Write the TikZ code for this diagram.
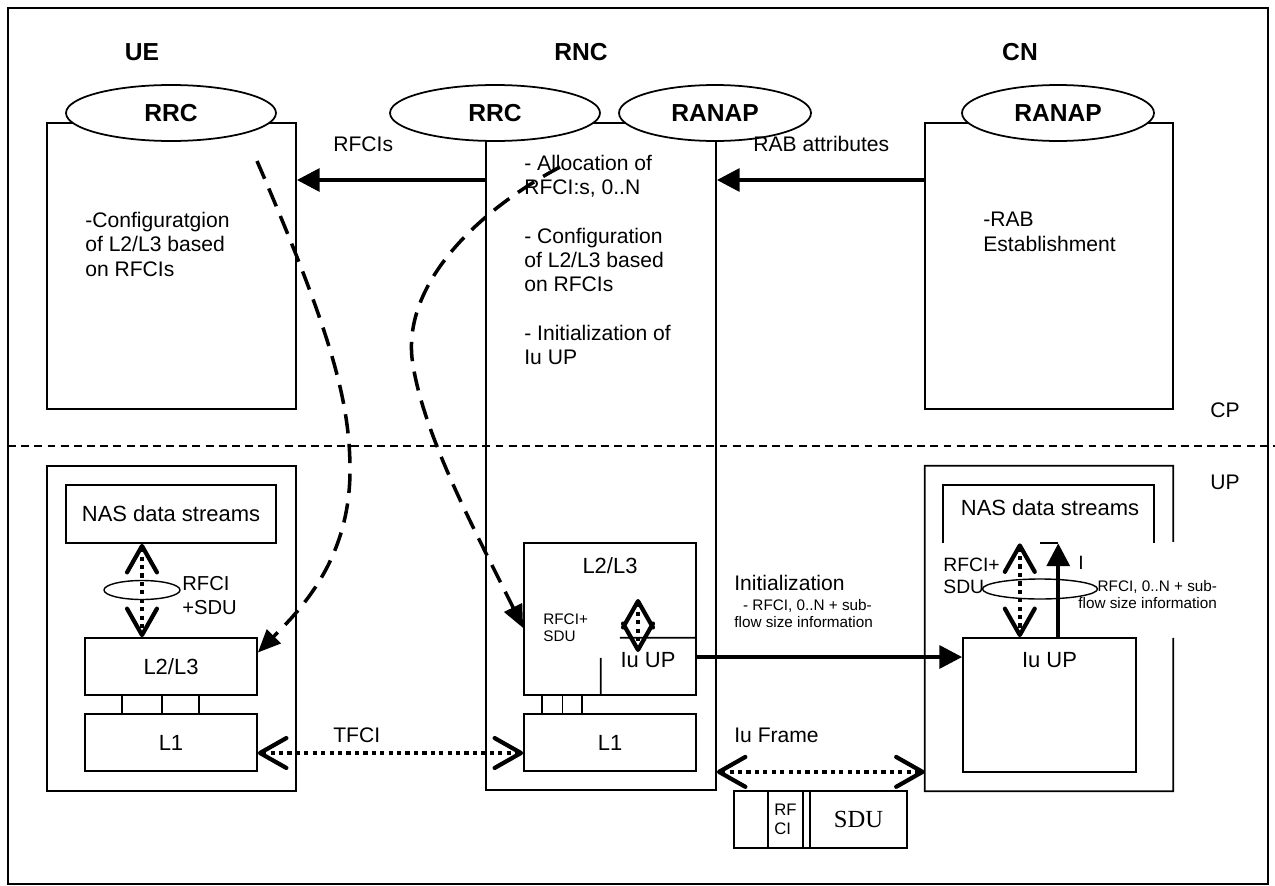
\documentclass[tikz,border=0pt]{standalone}
\usepackage{fontspec}
\setmainfont{Liberation Sans}
\newfontfamily\sduserif{Liberation Serif}
\usetikzlibrary{arrows.meta,calc,fit,positioning,shapes.geometric}

\begin{document}
\begin{tikzpicture}[x=0.02cm,y=-0.02cm,
  box/.style={draw,line width=1pt,inner sep=0pt},
  tag/.style={label={[inner sep=0pt,align=left,font=\fontsize{12.5}{14}\selectfont]center:#1}},
  layer/.style={box,tag=#1},
  proto/.style={ellipse,draw,fill=white,line width=1pt,minimum height=1.12cm,inner sep=0pt,font=\fontsize{14}{16}\selectfont\bfseries},
  headtxt/.style={font=\fontsize{14}{16}\selectfont\bfseries},
  txt/.style={inner sep=0pt,align=left,font=\fontsize{12}{13.8}\selectfont},
  small/.style={inner sep=0pt,align=left,font=\fontsize{8.7}{9.8}\selectfont},
  sig/.style={line width=2.3pt,-{Triangle[length=13pt,width=13pt]}},
  dotarrow/.style={line width=2.4pt,dash pattern=on 2.4pt off 2.4pt,{Straight Barb[length=15pt,width=17pt,round]}-{Straight Barb[length=15pt,width=17pt,round]}},
  ctrl/.style={line width=2pt,dash pattern=on 11pt off 6pt,-{Triangle[length=13pt,width=11pt]}},
  sub/.style={draw,ellipse,line width=0.8pt,inner sep=0pt}
]
\useasboundingbox (0,0) rectangle (1275,886);
\draw[line width=0.8pt] (8,8) rectangle (1268,884);

% control plane
\node[headtxt] (ue) at (142,52) {UE};
\node[headtxt] (rnc) at (581,52) {RNC};
\node[headtxt] (cn) at (1020,52) {CN};

\node[box,fit={(47,123) (296,409)}] (ueCP) {};
\node[box,fit={(486,123) (716,790)}] (rncBox) {};
\node[box,fit={(925,123) (1173,409)}] (cnCP) {};

\node[proto,minimum width=4.2cm] (ueRRC) at (171,113) {RRC};
\node[proto,minimum width=4.2cm] (rncRRC) at (495,113) {RRC};
\node[proto,minimum width=3.84cm] (rncRANAP) at (715,113) {RANAP};
\node[proto,minimum width=3.84cm] (cnRANAP) at (1058,113) {RANAP};

\node[txt,anchor=north west] (ueCfg) at (85,212) {-Configuratgion\\of L2/L3 based\\on RFCIs};
\node[txt,anchor=north west] (rncCfg) at (524,155) {- Allocation of\\RFCI:s, 0..N\\[13.8pt]- Configuration\\of L2/L3 based\\on RFCIs\\[13.8pt]- Initialization of\\Iu UP};
\node[txt,anchor=north west] (cnCfg) at (983,212) {-RAB\\Establishment};

\coordinate (cpY) at (0,180);
\draw[sig] (rncBox.west |- cpY) -- (ueCP.east |- cpY);
\draw[sig] (cnCP.west |- cpY) -- (rncBox.east |- cpY);
\node[txt,anchor=west] (rfcis) at (333,144) {RFCIs};
\node[txt,anchor=west] (rabAttr) at (753,144) {RAB attributes};

\draw[line width=0.6pt,dash pattern=on 4.5pt off 3pt] (8,446) -- (1275,446);
\node[txt] (cp) at (1225,410) {CP};
\node[txt] (up) at (1225,482) {UP};

% user plane, UE
\node[box,fit={(47,466) (296,791)}] (ueUP) {};
\node[layer={NAS data streams},fit={(66,485) (276,543)}] (ueNAS) {};
\node[layer={L2/L3},fit={(85,638) (257,695)}] (ueL23) {};
\node[layer={L1},fit={(85,714) (257,771)}] (ueL1) {};
\foreach \f in {0.22,0.45,0.66}
  \draw[line width=1pt] ($(ueL23.south west)!\f!(ueL23.south east)$) -- ($(ueL1.north west)!\f!(ueL1.north east)$);
\node[sub,minimum width=1.52cm,minimum height=0.38cm] (ueOval) at (142,590) {};
\draw[dotarrow] (ueOval |- ueNAS.south) -- (ueOval |- ueL23.north);
\node[txt,anchor=north west,font=\fontsize{11.5}{13.6}\selectfont] (ueSdu) at (182,576) {RFCI\\+SDU};

% user plane, RNC
\node[box,fit={(524,543) (696,695)}] (rncL23) {};
\node[txt,font=\fontsize{12.5}{14}\selectfont,below=0.3cm of rncL23.north] (rncL23t) {L2/L3};
\node[fit={(601,638) (696,695)},inner sep=0pt] (rncIu) {};
\draw[line width=1pt] ($(rncIu.north west)!0.2!(rncIu.north east)$) -- (rncIu.north east);
\draw[line width=1pt] ($(rncIu.south west)!0.65!(rncIu.north west)$) -- (rncIu.south west);
\node[txt,font=\fontsize{12.5}{14}\selectfont] (rncIut) at (648,660) {Iu UP};
\node[small,anchor=north west] (rncSdu) at (543,613) {RFCI+\\SDU};
\coordinate (rncUp) at (638,599);
\coordinate (rncDn) at (638,652);
\draw[dotarrow] (rncUp) -- (rncDn);
\node[layer={L1},fit={(524,714) (696,771)}] (rncL1) {};
\foreach \f in {0.11,0.227,0.337}
  \draw[line width=1pt] ($(rncL23.south west)!\f!(rncL23.south east)$) -- ($(rncL1.north west)!\f!(rncL1.north east)$);

\coordinate (tfY) at (0,753);
\draw[dotarrow] (ueL1.east |- tfY) -- (rncL1.west |- tfY);
\node[txt,anchor=west] (tfci) at (333,735) {TFCI};

% user plane, CN
\node[fit={(925,466) (1173,791)},inner sep=0pt] (cnUP) {};
\draw[line width=1pt] ($(cnUP.north east)!0.234!(cnUP.south east)$) -- (cnUP.north east) -- (cnUP.north west) -- (cnUP.south west) -- (cnUP.south east) -- ($(cnUP.north east)!0.529!(cnUP.south east)$);
\node[fit={(943,485) (1154,543)},inner sep=0pt] (cnNAS) {};
\node[txt,font=\fontsize{12.5}{14}\selectfont] (cnNASt) at (1050,508) {NAS data streams};
\draw[line width=1pt] (cnNAS.south west) -- (cnNAS.north west) -- (cnNAS.north east) -- (cnNAS.south east);
\draw[line width=1pt] ($(cnNAS.south west)!0.46!(cnNAS.south east)$) -- ($(cnNAS.south west)!0.545!(cnNAS.south east)$);
\node[box,fit={(963,638) (1136,772)}] (cnIu) {};
\node[txt,font=\fontsize{12.5}{14}\selectfont,below=0.3cm of cnIu.north] (cnIut) {Iu UP};
\node[sub,minimum width=2.3cm,minimum height=0.4cm] (cnOval) at (1040,589) {};
\coordinate (cnDot) at ($(cnIu.north west)!0.33!(cnIu.north east)$);
\draw[dotarrow] (cnDot |- cnNAS.south) -- (cnDot);
\coordinate (cnUpArr) at ($(cnIu.north west)!0.55!(cnIu.north east)$);
\draw[sig] (cnUpArr) -- (cnUpArr |- cnNAS.south);
\node[txt,anchor=north west,font=\fontsize{11}{12.5}\selectfont] (cnSdu) at (943,558) {RFCI+\\SDU};
\node[txt,anchor=west,font=\fontsize{11}{12.5}\selectfont] (cnI) at (1078,563) {I};
\node[small,anchor=north west] (cnInfo) at (1078,580) {\hspace*{11pt}RFCI, 0..N + sub-\\flow size information};

% RNC -> CN
\coordinate (initY) at (0,657);
\draw[sig] (rncIu.east |- initY) -- (cnIu.west |- initY);
\node[txt,anchor=west] (init) at (734,583) {Initialization};
\node[small,anchor=north west] (initInfo) at (734,599) {\hspace*{5pt}- RFCI, 0..N + sub-\\flow size information};

\draw[dotarrow] (rncBox.east |- rncL1.south) -- (cnUP.west |- rncL1.south);
\node[txt,anchor=west] (iuFrame) at (734,735) {Iu Frame};

\node[box,fit={(734,791) (768,848)}] (frmHdr) {};
\node[box,fit={(768,791) (803,848)},label={[small,font=\fontsize{9.5}{10.5}\selectfont]center:RF\\CI}] (frmRfci) {};
\node[box,fit={(803,791) (810,848)}] (frmGap) {};
\node[box,fit={(810,791) (907,848)},label={[inner sep=0pt,font=\sduserif\fontsize{14}{16}\selectfont]center:SDU}] (frmSdu) {};

% configuration from RRC
\coordinate (ueCfgOut) at (257,161);
\draw[ctrl] (ueCfgOut) .. controls (330,330) and (350,400) .. (350,470) .. controls (350,560) and (300,610) .. ([yshift=0.28cm]ueL23.east);
\coordinate (rncCfgOut) at (560,167);
\draw[ctrl] (rncCfgOut) .. controls (470,215) and (400,290) .. (413,365) .. controls (425,440) and (480,540) .. ([yshift=-0.18cm]rncL23.west);
\end{tikzpicture}
\end{document}
